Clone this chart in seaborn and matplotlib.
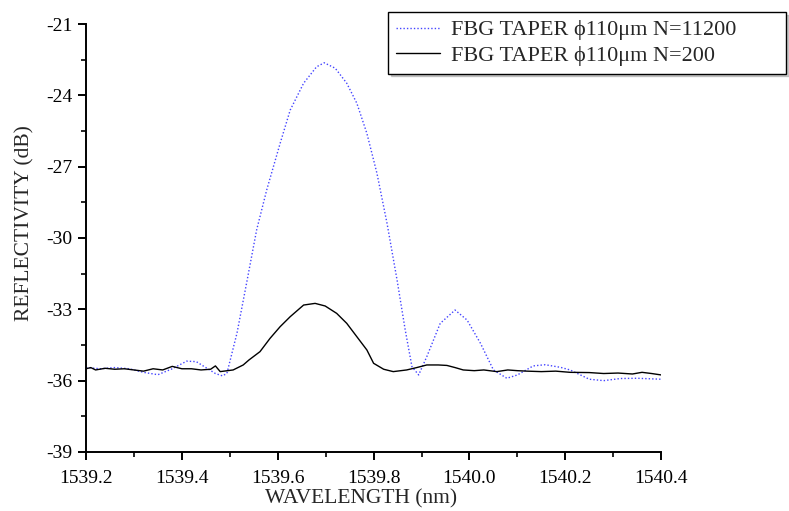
import pandas as pd
import matplotlib
matplotlib.use("Agg")
import matplotlib.pyplot as plt
import seaborn as sns
from matplotlib.ticker import MultipleLocator, AutoMinorLocator, FormatStrFormatter

# values
wl_11200 = [1539.20, 1539.23, 1539.26, 1539.29, 1539.32, 1539.35, 1539.38, 1539.41,
            1539.43, 1539.45, 1539.47, 1539.485, 1539.494, 1539.515, 1539.535, 1539.556,
            1539.577, 1539.605, 1539.626, 1539.654, 1539.681, 1539.697, 1539.72, 1539.744,
            1539.765, 1539.786, 1539.807, 1539.828, 1539.849, 1539.866, 1539.88, 1539.894,
            1539.911, 1539.939, 1539.97, 1539.995, 1540.023, 1540.05, 1540.078, 1540.10,
            1540.133, 1540.158, 1540.19, 1540.21, 1540.25, 1540.28, 1540.315, 1540.35,
            1540.40]
refl_11200 = [-35.45, -35.5, -35.45, -35.5, -35.65, -35.75, -35.5, -35.18,
              -35.2, -35.45, -35.7, -35.8, -35.69, -34.0, -31.9, -29.66,
              -27.98, -26.02, -24.62, -23.49, -22.8, -22.63, -22.86, -23.49,
              -24.33, -25.6, -27.28, -29.38, -31.77, -33.87, -35.41, -35.76,
              -34.99, -33.59, -33.03, -33.45, -34.43, -35.55, -35.9, -35.76,
              -35.38, -35.33, -35.44, -35.55, -35.94, -36.0, -35.91, -35.9,
              -35.94]

wl_200 = [1539.20, 1539.21, 1539.22, 1539.24, 1539.26, 1539.28, 1539.30, 1539.32,
          1539.34, 1539.36, 1539.38, 1539.40, 1539.42, 1539.44, 1539.46, 1539.47,
          1539.48, 1539.507, 1539.528, 1539.54, 1539.563, 1539.584, 1539.605, 1539.626,
          1539.654, 1539.678, 1539.699, 1539.723, 1539.744, 1539.765, 1539.786, 1539.80,
          1539.821, 1539.841, 1539.869, 1539.89, 1539.911, 1539.935, 1539.953, 1539.97,
          1539.987, 1540.01, 1540.03, 1540.057, 1540.08, 1540.10, 1540.12, 1540.15,
          1540.18, 1540.21, 1540.25, 1540.28, 1540.31, 1540.34, 1540.36, 1540.38,
          1540.40]
refl_200 = [-35.5, -35.45, -35.55, -35.48, -35.52, -35.5, -35.55, -35.6,
            -35.5, -35.55, -35.4, -35.5, -35.5, -35.55, -35.52, -35.38,
            -35.62, -35.55, -35.34, -35.13, -34.78, -34.22, -33.73, -33.31,
            -32.82, -32.75, -32.86, -33.17, -33.59, -34.15, -34.71, -35.27,
            -35.52, -35.62, -35.55, -35.45, -35.34, -35.34, -35.36, -35.45,
            -35.55, -35.58, -35.55, -35.62, -35.55, -35.58, -35.6, -35.62,
            -35.6, -35.65, -35.66, -35.7, -35.68, -35.72, -35.65, -35.7,
            -35.76]

labels = ["FBG TAPER \u03d5110\u03bcm N=11200", "FBG TAPER \u03d5110\u03bcm N=200"]
blue = "#4444ff"

sns.set_style("ticks")
plt.rcParams['font.family'] = ['Liberation Serif', 'DejaVu Serif']
plt.rcParams['axes.unicode_minus'] = False

df = pd.concat([
    pd.DataFrame({"wl": wl_11200, "refl": refl_11200, "series": labels[0]}),
    pd.DataFrame({"wl": wl_200, "refl": refl_200, "series": labels[1]}),
])

fig = plt.figure(figsize=(7.89, 5.11), dpi=100)
ax = fig.add_axes([0.109, 0.1155, 0.729, 0.8375])

sns.lineplot(data=df, x="wl", y="refl", hue="series", style="series",
             palette={labels[0]: blue, labels[1]: "black"},
             dashes={labels[0]: (1, 1.5), labels[1]: ""},
             linewidth=1.0, ax=ax, legend=False, sort=False)

ax.set_xlim(1539.2, 1540.4)
ax.set_ylim(-39, -21)
ax.xaxis.set_major_locator(MultipleLocator(0.2))
ax.xaxis.set_major_formatter(FormatStrFormatter("%.1f"))
ax.yaxis.set_major_locator(MultipleLocator(3))
ax.xaxis.set_minor_locator(AutoMinorLocator(2))
ax.yaxis.set_minor_locator(AutoMinorLocator(2))
ax.tick_params(which="major", length=6, width=1.4, labelsize=14, colors="black")
ax.tick_params(which="minor", length=3.8, width=1.4)
ax.tick_params(axis="x", pad=7)
for s in ["top", "right"]:
    ax.spines[s].set_visible(False)
for s in ["left", "bottom"]:
    ax.spines[s].set_linewidth(1.4)
    ax.spines[s].set_color("black")

ax.set_xlabel("WAVELENGTH (nm)", fontsize=15.5)
ax.set_ylabel("REFLECTIVITY (dB)", fontsize=15.5)
ax.xaxis.set_label_coords(0.478, -0.086)
ax.yaxis.set_label_coords(-0.089, 0.535)

handles = [plt.Line2D([], [], color=blue, linestyle=(0, (1, 1.5)), linewidth=1.0),
           plt.Line2D([], [], color="black", linewidth=1.0)]
leg = fig.legend(handles, labels, loc="upper left",
                 bbox_to_anchor=(388 / 789, 1 - 12 / 511, 398 / 789, 0), mode="expand",
                 borderaxespad=0, fontsize=16, frameon=True, fancybox=False,
                 shadow={"color": "0.6"}, handlelength=2.0, handletextpad=0.5,
                 borderpad=0.35, labelspacing=0.22)
leg.get_frame().set_edgecolor("black")
leg.get_frame().set_linewidth(1.0)

fig.savefig("out.png", dpi=100)
